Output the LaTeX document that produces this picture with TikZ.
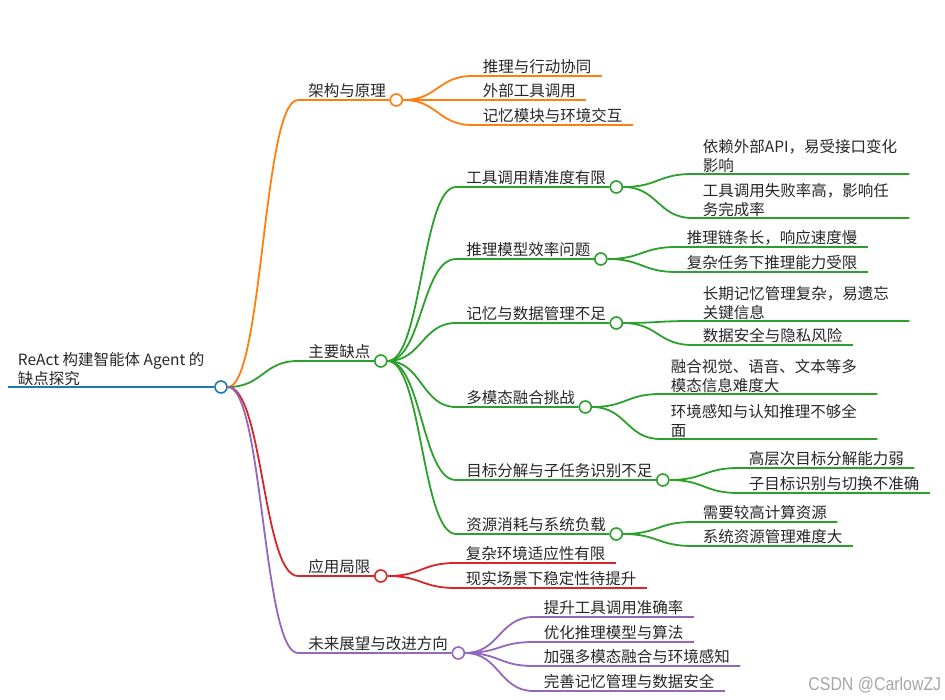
\documentclass[tikz,border=0pt]{standalone}
\usepackage{fontspec}
\setmainfont{Noto Sans CJK SC}
\newfontfamily\markfont{Liberation Sans}
\usepackage{tikz}
\usetikzlibrary{calc}

\definecolor{rootblue}{HTML}{1F77B4}
\definecolor{archorange}{HTML}{FF7F0E}
\definecolor{flawgreen}{HTML}{2CA02C}
\definecolor{limitred}{HTML}{D62728}
\definecolor{futurepurple}{HTML}{9467BD}

\tikzset{
  txt/.style={anchor=south west, inner xsep=9.5pt, inner ysep=0.5pt,
    align=left, text=black!85, font=\fontsize{15.5}{19}\selectfont},
  lbl/.style={txt, text depth=2pt},
  wrap/.style={txt, text width=196pt},
  knot/.style={circle, fill=white, line width=1.6pt, minimum size=12pt, inner sep=0pt},
  twig/.style={to path={let \p1=(\tikztostart), \p2=(\tikztotarget) in
    .. controls ({(\x1+\x2)/2},\y1) and ({(\x1+\x2)/2},\y2) .. (\tikztotarget)}},
}

\begin{document}
\begin{tikzpicture}[x=1pt, y=-1pt, line width=1.8pt]
\useasboundingbox (0,0) rectangle (945,700);
% root
\node[txt] (root) at (7.5,387) {ReAct 构建智能体 Agent 的\\缺点探究};
\node[knot, draw=rootblue] (root-k) at (221,387) {};
\draw[rootblue, line width=2.5pt] (root.south west) -- (root-k.west);
% level 1
\node[lbl] (arch) at (298,100) {架构与原理};
\node[knot, draw=archorange] (arch-k) at (arch.south east) {};
\node[lbl] (flaw) at (298,361) {主要缺点};
\node[knot, draw=flawgreen] (flaw-k) at (flaw.south east) {};
\node[lbl] (limit) at (298,576) {应用局限};
\node[knot, draw=limitred] (limit-k) at (limit.south east) {};
\node[lbl] (future) at (298,653) {未来展望与改进方向};
\node[knot, draw=futurepurple] (future-k) at (future.south east) {};
\draw[archorange] (root-k.east) to[twig] (arch.south west) -- (arch-k.west);
\draw[flawgreen] (root-k.east) to[twig] (flaw.south west) -- (flaw-k.west);
\draw[limitred] (root-k.east) to[twig] (limit.south west) -- (limit-k.west);
\draw[futurepurple] (root-k.east) to[twig] (future.south west) -- (future-k.west);
% architecture
\node[lbl] (arch1) at (472.5,76) {推理与行动协同};
\node[lbl] (arch2) at (472.5,100) {外部工具调用};
\node[lbl] (arch3) at (472.5,125) {记忆模块与环境交互};
\draw[archorange] (arch-k.east) to[twig] (arch1.south west) -- (arch1.south east);
\draw[archorange] (arch-k.east) to[twig] (arch2.south west) -- (arch2.south east);
\draw[archorange] (arch-k.east) to[twig] (arch3.south west) -- (arch3.south east);
% main flaws
\node[lbl] (tool) at (456,187) {工具调用精准度有限};
\node[knot, draw=flawgreen] (tool-k) at (tool.south east) {};
\node[lbl] (reas) at (456,259) {推理模型效率问题};
\node[knot, draw=flawgreen] (reas-k) at (reas.south east) {};
\node[lbl] (mem) at (456,323) {记忆与数据管理不足};
\node[knot, draw=flawgreen] (mem-k) at (mem.south east) {};
\node[lbl] (multi) at (456,407) {多模态融合挑战};
\node[knot, draw=flawgreen] (multi-k) at (multi.south east) {};
\node[lbl] (goal) at (456,480) {目标分解与子任务识别不足};
\node[knot, draw=flawgreen] (goal-k) at (goal.south east) {};
\node[lbl] (res) at (456,534) {资源消耗与系统负载};
\node[knot, draw=flawgreen] (res-k) at (res.south east) {};
\draw[flawgreen] (flaw-k.east) to[twig] (tool.south west) -- (tool-k.west);
\draw[flawgreen] (flaw-k.east) to[twig] (reas.south west) -- (reas-k.west);
\draw[flawgreen] (flaw-k.east) to[twig] (mem.south west) -- (mem-k.west);
\draw[flawgreen] (flaw-k.east) to[twig] (multi.south west) -- (multi-k.west);
\draw[flawgreen] (flaw-k.east) to[twig] (goal.south west) -- (goal-k.west);
\draw[flawgreen] (flaw-k.east) to[twig] (res.south west) -- (res-k.west);
% leaves of the flaws
\node[wrap] (tool1) at (692.5,174) {依赖外部API，易受接口变化\\影响};
\node[wrap] (tool2) at (692.5,218) {工具调用失败率高，影响任\\务完成率};
\node[lbl] (reas1) at (676.5,247) {推理链条长，响应速度慢};
\node[lbl] (reas2) at (676.5,272) {复杂任务下推理能力受限};
\node[wrap] (mem1) at (692.5,321) {长期记忆管理复杂，易遗忘\\关键信息};
\node[lbl] (mem2) at (692.5,345) {数据安全与隐私风险};
\node[wrap] (multi1) at (660.5,394) {融合视觉、语音、文本等多\\模态信息难度大};
\node[wrap] (multi2) at (660.5,439) {环境感知与认知推理不够全\\面};
\node[lbl] (goal1) at (738.5,468) {高层次目标分解能力弱};
\node[lbl] (goal2) at (738.5,493) {子目标识别与切换不准确};
\node[lbl] (res1) at (692.5,522) {需要较高计算资源};
\node[lbl] (res2) at (692.5,546) {系统资源管理难度大};
\draw[flawgreen] (tool-k.east) to[twig] (tool1.south west) -- (tool1.south east);
\draw[flawgreen] (tool-k.east) to[twig] (tool2.south west) -- (tool2.south east);
\draw[flawgreen] (reas-k.east) to[twig] (reas1.south west) -- (reas1.south east);
\draw[flawgreen] (reas-k.east) to[twig] (reas2.south west) -- (reas2.south east);
\draw[flawgreen] (mem-k.east) to[twig] (mem1.south west) -- (mem1.south east);
\draw[flawgreen] (mem-k.east) to[twig] (mem2.south west) -- (mem2.south east);
\draw[flawgreen] (multi-k.east) to[twig] (multi1.south west) -- (multi1.south east);
\draw[flawgreen] (multi-k.east) to[twig] (multi2.south west) -- (multi2.south east);
\draw[flawgreen] (goal-k.east) to[twig] (goal1.south west) -- (goal1.south east);
\draw[flawgreen] (goal-k.east) to[twig] (goal2.south west) -- (goal2.south east);
\draw[flawgreen] (res-k.east) to[twig] (res1.south west) -- (res1.south east);
\draw[flawgreen] (res-k.east) to[twig] (res2.south west) -- (res2.south east);
% limits
\node[lbl] (limit1) at (455.5,563) {复杂环境适应性有限};
\node[lbl] (limit2) at (455.5,588) {现实场景下稳定性待提升};
\draw[limitred] (limit-k.east) to[twig] (limit1.south west) -- (limit1.south east);
\draw[limitred] (limit-k.east) to[twig] (limit2.south west) -- (limit2.south east);
% future
\node[lbl] (future1) at (533.5,617) {提升工具调用准确率};
\node[lbl] (future2) at (533.5,642) {优化推理模型与算法};
\node[lbl] (future3) at (533.5,666) {加强多模态融合与环境感知};
\node[lbl] (future4) at (533.5,691) {完善记忆管理与数据安全};
\draw[futurepurple] (future-k.east) to[twig] (future1.south west) -- (future1.south east);
\draw[futurepurple] (future-k.east) to[twig] (future2.south west) -- (future2.south east);
\draw[futurepurple] (future-k.east) to[twig] (future3.south west) -- (future3.south east);
\draw[futurepurple] (future-k.east) to[twig] (future4.south west) -- (future4.south east);
% watermark
\node[anchor=base east, inner sep=0pt, xscale=0.86, text=black!35, font=\markfont\fontsize{18.5}{20}\selectfont] (mark) at (942,690) {CSDN @CarlowZJ};
\end{tikzpicture}
\end{document}
